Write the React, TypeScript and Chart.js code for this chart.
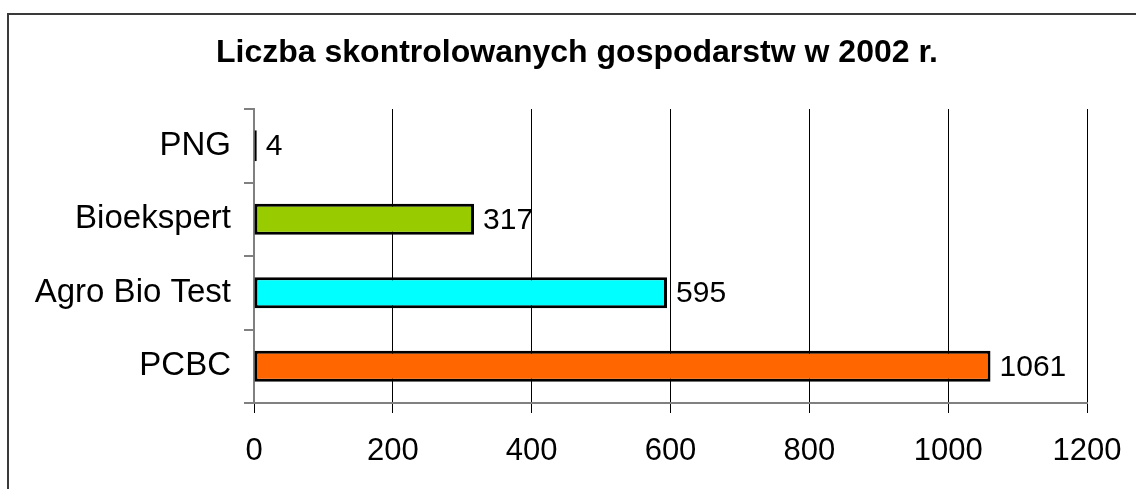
import React, { useEffect, useRef } from "react";
import { Chart, registerables } from "chart.js";

Chart.register(...registerables);

const titleText = "Liczba skontrolowanych gospodarstw w 2002 r.";
const categories = ["PNG", "Bioekspert", "Agro Bio Test", "PCBC"];
const values = [4, 317, 595, 1061];
const barColors = ["#800000", "#99CC00", "#00FFFF", "#FF6600"];
const xTicks = [0, 200, 400, 600, 800, 1000, 1200];

const FONT = '"Liberation Sans", Arial, sans-serif';

const labelPlugin = {
  id: "valueLabels",
  afterDraw(chart: any) {
    const ctx = chart.ctx;
    ctx.save();
    // title
    ctx.font = `bold 32px ${FONT}`;
    ctx.fillStyle = "#000";
    ctx.textAlign = "center";
    ctx.textBaseline = "alphabetic";
    ctx.fillText(titleText, 577, 62);
    // value labels
    ctx.font = `30px ${FONT}`;
    ctx.textAlign = "left";
    ctx.textBaseline = "middle";
    const meta = chart.getDatasetMeta(0);
    meta.data.forEach((bar: any, i: number) => {
      ctx.fillText(String(values[i]), bar.x + 9, bar.y + 1);
    });
    ctx.restore();
  },
};

export default function App() {
  const ref = useRef<HTMLCanvasElement>(null);
  useEffect(() => {
    if (!ref.current) return;
    const chart = new Chart(ref.current, {
      type: "bar",
      data: {
        labels: categories,
        datasets: [
          {
            data: values,
            backgroundColor: barColors,
            borderColor: "#000",
            borderWidth: 3,
            borderSkipped: false,
            categoryPercentage: 1,
            barPercentage: 0.42,
          },
        ],
      },
      options: {
        indexAxis: "y",
        responsive: false,
        animation: false,
        layout: { padding: { left: 0, right: 49, top: 109, bottom: 0 } },
        plugins: {
          legend: { display: false },
          title: { display: false },
          tooltip: { enabled: false },
        },
        scales: {
          x: {
            min: 0,
            max: 1200,
            afterBuildTicks: (scale: any) => {
              scale.ticks = xTicks.map((v) => ({ value: v }));
            },
            afterFit: (scale: any) => {
              scale.height = 86;
              scale.paddingLeft = 0;
              scale.paddingRight = 0;
            },
            grid: {
              color: "#000",
              lineWidth: 1,
              tickLength: 10,
              drawTicks: true,
            },
            border: { color: "#808080", width: 2 },
            ticks: {
              color: "#000",
              font: { family: FONT, size: 31 },
              padding: 20,
              maxRotation: 0,
              callback: (v: any) => String(v),
            },
          },
          y: {
            afterFit: (scale: any) => {
              scale.width = 254;
              scale.paddingTop = 0;
              scale.paddingBottom = 0;
            },
            grid: {
              offset: true,
              drawOnChartArea: false,
              drawTicks: true,
              tickLength: 10,
              color: "#808080",
              lineWidth: 2,
            },
            border: { color: "#808080", width: 2 },
            ticks: {
              color: "#000",
              font: { family: FONT, size: 33 },
              padding: 13,
            },
          },
        },
      },
      plugins: [labelPlugin],
    });
    return () => chart.destroy();
  }, []);

  return (
    <div
      style={{
        position: "absolute",
        left: 0,
        top: 0,
        width: 1136,
        height: 489,
        overflow: "hidden",
        background: "#fff",
      }}
    >
      <div
        style={{
          position: "absolute",
          left: 7,
          top: 13,
          width: 1300,
          height: 600,
          borderTop: "2px solid #3a3a3a",
          borderLeft: "2px solid #3a3a3a",
        }}
      />
      <canvas
        ref={ref}
        width={1136}
        height={489}
        style={{ position: "absolute", left: 0, top: 0, width: 1136, height: 489 }}
      />
    </div>
  );
}
